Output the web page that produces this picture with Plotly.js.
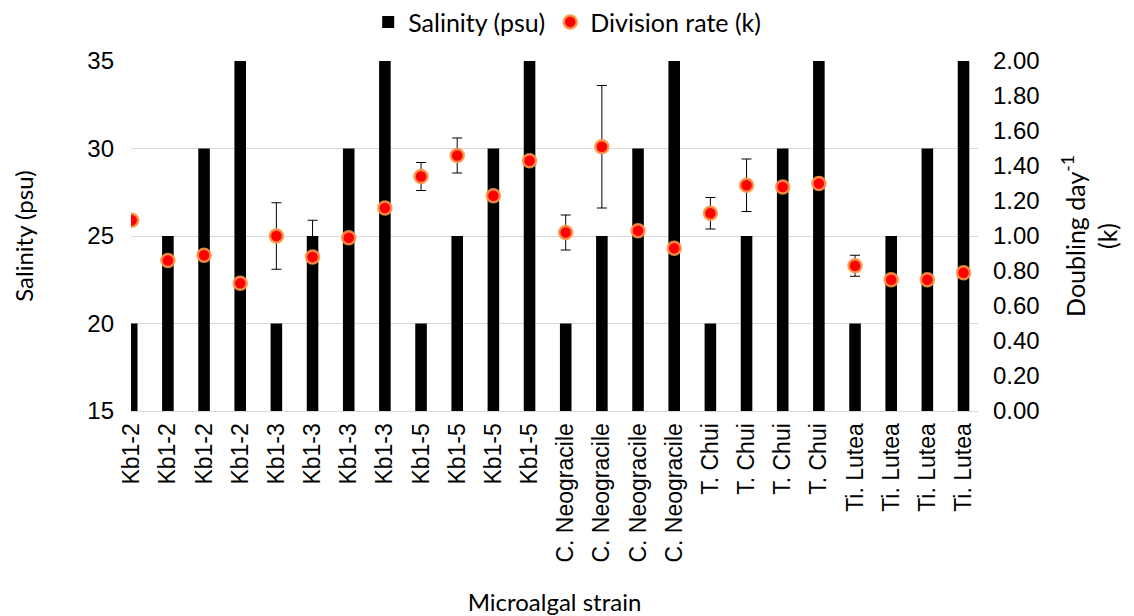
<!DOCTYPE html>
<html><head><meta charset="utf-8">
<script src="https://cdn.plot.ly/plotly-3.0.1.min.js"></script>
<style>html,body{margin:0;padding:0;background:#fff}</style>
</head><body><div id="chart" style="width:1134px;height:616px"></div>
<script>
const strains = ["Kb1-2","Kb1-2","Kb1-2","Kb1-2","Kb1-3","Kb1-3","Kb1-3","Kb1-3",
  "Kb1-5","Kb1-5","Kb1-5","Kb1-5","C. Neogracile","C. Neogracile","C. Neogracile","C. Neogracile",
  "T. Chui","T. Chui","T. Chui","T. Chui","Ti. Lutea","Ti. Lutea","Ti. Lutea","Ti. Lutea"];
const salinity = [20,25,30,35, 20,25,30,35, 20,25,30,35, 20,25,30,35, 20,25,30,35, 20,25,30,35];
const divisionRate = [1.09,0.86,0.89,0.73, 1.00,0.88,0.99,1.16, 1.34,1.46,1.23,1.43,
  1.02,1.51,1.03,0.93, 1.13,1.29,1.28,1.30, 0.83,0.75,0.75,0.79];
const divisionErr = [0.02,0.02,0.02,0.02, 0.19,0.21,0.08,0.07, 0.08,0.10,0.10,0.06,
  0.10,0.35,0.12,0.02, 0.09,0.15,0.14,0.08, 0.06,0.06,0.06,0.02];
const rightTicks = [0,0.2,0.4,0.6,0.8,1.0,1.2,1.4,1.6,1.8,2.0];
const leftTicks = [15,20,25,30,35];

const idx = strains.map((_, i) => i);
const tickFont = "Liberation Sans, Arial, sans-serif";
const human = "Lato, Open Sans, sans-serif";

const traces = [
  {type:'bar', name:'Salinity (psu)', x: idx, y: salinity, width: 0.32,
   marker:{color:'#000000'}, yaxis:'y'},
  {type:'scatter', mode:'markers', name:'Division rate (k)', x: idx, y: divisionRate, yaxis:'y2',
   marker:{color:'#ff0000', size:13, line:{color:'rgba(245,150,70,0.9)', width:2.5}},
   error_y:{type:'data', array: divisionErr, visible:true, color:'#000', thickness:1, width:5}}
];

const layout = {
  width:1134, height:616,
  margin:{l:131, r:156, t:61, b:205, autoexpand:false},
  paper_bgcolor:'#fff', plot_bgcolor:'#fff',
  showlegend:true,
  legend:{orientation:'h', x:0.515, xanchor:'center', y:1.111, yanchor:'middle',
    font:{family:human, size:25, color:'#000'}, itemwidth:30},
  xaxis:{range:[-0.02,23.4], tickvals: idx, ticktext: strains, tickangle:-90,
    tickfont:{family:tickFont, size:23, color:'#000'}, showgrid:false, zeroline:false,
    showline:true, linecolor:'#d9d9d9', ticks:'', ticklabelstandoff:2,
    title:{text:'Microalgal strain', font:{family:human, size:24, color:'#000'}, standoff:33}},
  yaxis:{range:[15,35], tickvals: leftTicks, tickfont:{family:tickFont, size:24, color:'#000'},
    showgrid:true, gridcolor:'#d9d9d9', gridwidth:1, zeroline:false, showline:false, ticks:'',
    ticklabelstandoff:16,
    title:{text:'Salinity (psu)', font:{family:human, size:24, color:'#000'}, standoff:46}},
  yaxis2:{range:[0,2], overlaying:'y', side:'right', tickvals: rightTicks, tickformat:'.2f',
    tickfont:{family:tickFont, size:24, color:'#000'}, showgrid:false, zeroline:false, showline:false,
    ticks:'', ticklabelstandoff:14,
    title:{text:'Doubling day<sup>-1</sup><br>(k)', font:{family:human, size:25, color:'#000'}, standoff:28}}
};

Plotly.newPlot('chart', traces, layout, {displayModeBar:false, staticPlot:true});
</script>
</body></html>
